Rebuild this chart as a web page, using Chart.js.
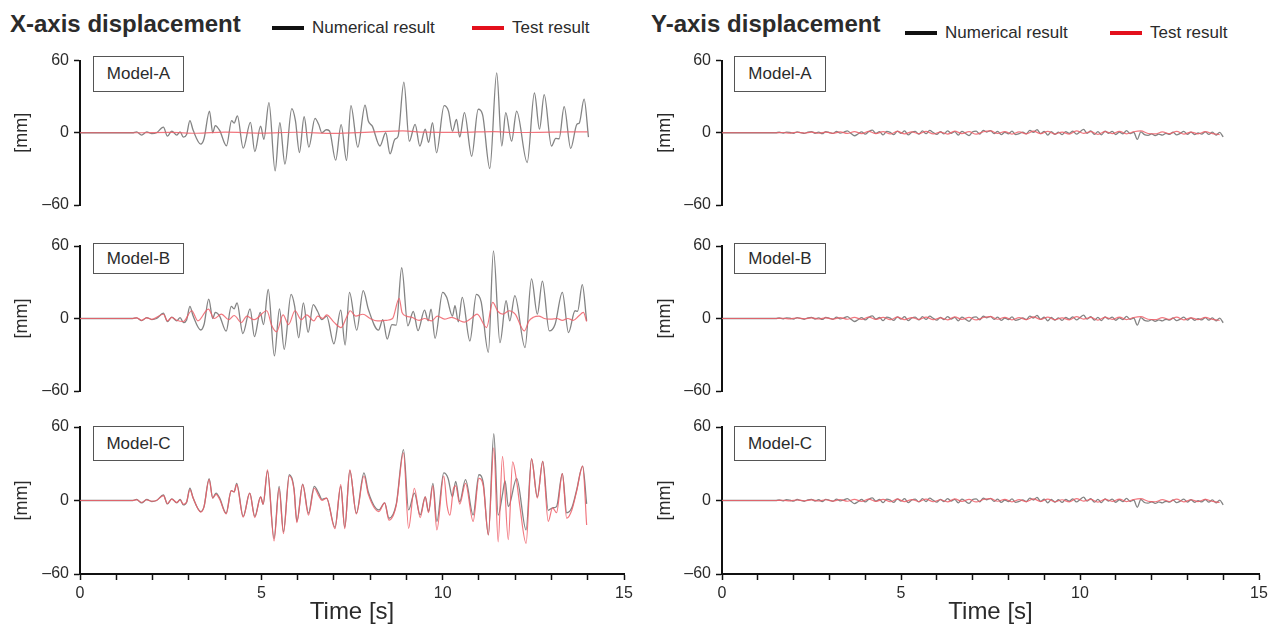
<!DOCTYPE html>
<html lang="en">
<head>
<meta charset="UTF-8">
<title>X / Y axis displacement</title>
<script src="https://cdn.jsdelivr.net/npm/chart.js"></script>
<style>
  body {
    margin: 0;
    width: 1274px;
    height: 627px;
    position: relative;
    overflow: hidden;
    background: #fff;
    font-family: "Liberation Sans", Arial, sans-serif;
    color: #2b2b2b;
  }
  canvas { position: absolute; }
  .title { position: absolute; top: 12px; font-size: 24px; font-weight: bold; line-height: 1; }
  .legend { position: absolute; font-size: 17px; line-height: 1; display: flex; align-items: center; }
  .swatch { display: inline-block; width: 32px; height: 4px; margin-right: 8px; }
  .model {
    position: absolute; box-sizing: border-box; border: 1px solid #555; background: #fff;
    font-size: 17px; display: flex; align-items: center; justify-content: center;
  }
</style>
</head>
<body>

<div class="title" style="left:10px">X-axis displacement</div>
<div class="legend" style="left:272px; top:19px"><span class="swatch" style="background:#111"></span>Numerical result</div>
<div class="legend" style="left:472px; top:19px"><span class="swatch" style="background:#e3101c"></span>Test result</div>

<div class="title" style="left:651px">Y-axis displacement</div>
<div class="legend" style="left:905px; top:24px"><span class="swatch" style="background:#111"></span>Numerical result</div>
<div class="legend" style="left:1110px; top:24px"><span class="swatch" style="background:#e3101c"></span>Test result</div>

<script>
// ---- data: [time s, displacement mm] ----

const numXA = [[0,0],[1.45,0],[1.56,0.8],[1.70,-1.9],[1.84,0.8],[1.98,-0.8],[2.11,0],[2.30,4.7],[2.41,-2.8],[2.53,1.4],[2.67,-1.9],[2.76,0.8],[2.85,-3.6],[2.94,-1.4],
  [3.03,10],[3.12,2],[3.33,-9.4],[3.42,-5],[3.57,18],[3.66,0],[3.73,6],[3.85,2],[4.04,-10.8],[4.18,10],[4.25,8],[4.34,14],[4.50,-12.8],[4.70,8.6],[4.82,-15.6],
  [4.98,5.5],[5.07,-5.5],[5.21,25],[5.38,-31.7],[5.51,8.3],[5.65,-26],[5.84,20],[5.94,10],[6.05,-16.4],[6.18,13.3],[6.31,-12],[6.48,12],[6.58,7],[6.67,0],
  [6.79,2.5],[6.88,1.5],[7.05,-22.8],[7.20,6.7],[7.35,-23],[7.47,22.5],[7.66,-12],[7.86,23],[7.95,9.7],[8.06,5.5],[8.27,-11],[8.43,0],[8.55,-17.5],[8.68,-5.5],
  [8.77,-3],[8.93,42],[9.08,-7],[9.24,7],[9.37,-11],[9.52,3],[9.61,-8],[9.72,8.3],[9.83,-16.7],[10.04,22.5],[10.16,18],[10.27,1.4],[10.38,11],[10.47,-3.6],
  [10.60,16.7],[10.80,-19.5],[10.98,19.5],[11.10,15],[11.30,-29.7],[11.49,49.7],[11.63,-11],[11.74,16.7],[11.90,-7],[12.04,18],[12.33,-24.7],[12.53,33],
  [12.67,3],[12.80,31.7],[13.00,-11],[13.12,-4.7],[13.21,-5],[13.35,21.7],[13.53,-13],[13.70,7],[13.77,8.3],[13.90,28],[14.02,-3.6]];

const testXA = [[0,0],[1.5,0],[2.5,0.3],[3.2,-0.4],[4.0,0.5],[5.0,-0.3],[6.0,0.4],[7.0,-0.5],[8.0,0.6],[8.9,1.5],[9.5,0.5],
  [10.5,0.3],[11.4,1.0],[12.0,0.2],[13.0,0.5],[14.0,0.8]];

const numXB = [[0,0],[1.45,0],[1.56,0.6],[1.70,-1.8],[1.84,0.8],[1.98,-0.9],[2.11,0],[2.30,4.4],[2.41,-2.6],[2.53,1.2],[2.67,-2.0],[2.76,0.8],[2.85,-3.4],[2.94,-1.2],
  [3.03,10],[3.12,2],[3.33,-9.5],[3.42,-5],[3.55,16],[3.66,0],[3.73,5],[3.85,2],[4.03,-10.5],[4.17,10],[4.25,8],[4.33,13],[4.49,-12.5],[4.69,8],[4.81,-15],
  [4.97,5],[5.06,-5],[5.19,24],[5.36,-31],[5.50,8],[5.63,-25.5],[5.82,20],[5.92,10],[6.03,-16],[6.16,13],[6.29,-11.5],[6.43,11.4],[6.55,6],[6.67,-1],[6.80,2],
  [7.00,-21],[7.19,7],[7.31,-22],[7.43,21.7],[7.63,-9.7],[7.81,23],[7.95,7.8],[8.23,-9.7],[8.35,-1],[8.47,-17],[8.60,-5],[8.72,-5.5],[8.87,42],[9.04,-6],
  [9.19,5.8],[9.32,-10],[9.50,7],[9.60,-2],[9.68,7.8],[9.79,-16.4],[10.00,21.7],[10.11,17.5],[10.27,2],[10.34,10.6],[10.43,-2.8],[10.54,17.5],[10.75,-18.6],
  [10.93,20],[11.06,14],[11.26,-28],[11.40,56],[11.58,-20],[11.75,14.7],[11.85,-2],[11.99,19],[12.27,-24],[12.45,32.8],[12.61,3.6],[12.75,30.9],[12.94,-10.3],
  [13.10,-4.7],[13.30,21.7],[13.47,-11.7],[13.65,6.4],[13.72,6],[13.85,28],[13.97,-2]];

const testXB = [[0,0],[1.45,0],[1.56,0.6],[1.70,-1.5],[1.84,0.6],[1.98,-0.7],[2.30,3.5],[2.41,-2],[2.53,1],[2.67,-1.5],[2.85,-2.5],[3.08,6.4],[3.25,-2],
  [3.54,7.8],[3.70,0],[3.90,3.6],[4.10,-1],[4.25,2.5],[4.45,-3.3],[4.60,2],[4.80,-1],[5.15,6.4],[5.29,-6],[5.42,-11],[5.60,3],[5.75,-5],[5.93,6.4],[6.10,-1],
  [6.25,3],[6.45,-2],[6.55,2],[6.70,0],[6.80,3],[7.00,-3],[7.20,-7.5],[7.35,1],[7.45,6.4],[7.60,2],[7.80,3.5],[8.00,0],[8.20,-2],[8.45,-1.5],[8.62,0],
  [8.80,16.7],[8.88,5],[9.00,2],[9.15,1],[9.35,-1.5],[9.50,0],[9.70,-2],[9.85,2],[10.05,-0.5],[10.25,1],[10.45,-1.5],[10.60,-3],[10.80,0.5],[10.95,3.6],
  [11.21,-7.5],[11.38,13.3],[11.52,6],[11.66,3.6],[11.83,6.4],[12.00,3.6],[12.25,-10.3],[12.38,-2],[12.50,1],[12.65,2],[12.80,0],[12.98,-0.5],[13.15,0],
  [13.30,-1.5],[13.45,0],[13.60,-1.5],[13.75,2],[13.88,5],[13.97,-2.5]];

const numXC = [[0,0],[1.45,0],[1.56,0.8],[1.70,-1.9],[1.84,0.8],[1.98,-0.8],[2.11,0],[2.30,4.5],[2.41,-2.8],[2.53,1.4],[2.67,-1.9],[2.76,0.8],[2.85,-3.6],[2.94,-1.4],
  [3.03,10],[3.12,2],[3.33,-9],[3.42,-5],[3.56,17.8],[3.66,2],[3.75,6],[3.85,2],[4.03,-10.4],[4.17,8],[4.25,7],[4.32,14],[4.50,-13],[4.68,6],[4.82,-13],
  [4.98,3],[5.05,-3],[5.17,24],[5.35,-31],[5.49,11.5],[5.61,-25.5],[5.77,21],[5.90,10],[5.98,-17],[6.14,13.4],[6.30,-10.4],[6.46,11.5],[6.58,6],[6.67,1],
  [6.80,2],[7.03,-22],[7.19,11.5],[7.30,-22],[7.44,24.4],[7.62,-10.4],[7.83,22.5],[7.95,7],[8.24,-7.7],[8.40,-2],[8.52,-14.5],[8.72,-3],[8.92,41.6],[9.06,-7.7],
  [9.22,6],[9.38,-11.8],[9.52,3],[9.61,-9],[9.73,14],[9.84,-17],[10.03,22.5],[10.15,18],[10.27,3],[10.36,15.6],[10.47,-1],[10.63,17],[10.84,-11.8],[11.00,21],
  [11.12,14],[11.26,-28],[11.41,54.5],[11.53,-12],[11.65,5],[11.72,16],[11.81,-5],[12.04,18],[12.30,-24],[12.45,34],[12.61,3],[12.76,32],[12.91,-8],
  [13.03,-6],[13.14,-5],[13.30,22],[13.42,-10],[13.56,-6],[13.69,8],[13.86,28],[13.97,-2.7]];

const testXC = [[0,0],[1.45,0],[1.56,0.6],[1.70,-1.6],[1.84,0.6],[1.98,-0.6],[2.11,0],[2.30,4],[2.41,-2.5],[2.53,1.2],[2.67,-1.6],[2.76,0.6],[2.85,-3],[2.94,-1.2],
  [3.03,9],[3.12,2],[3.33,-9.5],[3.42,-5],[3.56,17],[3.66,2],[3.75,5],[3.85,1],[4.03,-11],[4.17,8],[4.25,7],[4.32,13],[4.50,-13.5],[4.68,6],[4.82,-14],
  [4.98,3],[5.05,-3],[5.17,25],[5.35,-33],[5.49,10],[5.61,-27],[5.77,20],[5.90,9],[5.98,-18],[6.14,13],[6.30,-12],[6.46,10],[6.58,4],[6.67,0],[6.80,2],
  [7.03,-23],[7.19,13],[7.30,-23],[7.44,25],[7.62,-11],[7.83,20],[7.95,5],[8.24,-9],[8.40,-2],[8.52,-16],[8.72,-4],[8.92,39],[9.06,-22.7],[9.22,10],
  [9.38,-14],[9.52,3],[9.61,-10],[9.73,12],[9.84,-24],[10.03,20],[10.12,-4],[10.20,-12],[10.30,10],[10.36,12],[10.47,-3],[10.63,14],[10.84,-17],[11.00,18],
  [11.12,12],[11.26,-28],[11.41,43],[11.53,-33.7],[11.65,36],[11.81,-32],[11.93,31.5],[12.04,15.6],[12.13,-5],[12.30,-35],[12.45,34],[12.61,2],[12.76,32],
  [12.91,-17],[13.03,-6],[13.14,-10],[13.30,22],[13.42,-14.5],[13.56,-8],[13.69,7],[13.86,28],[13.97,-20]];

// Y direction: small wiggles, sampled every 0.1 s (numerical) / 0.2 s (test) from t = 1.5 s
const yStart = 1.5;
const numY = [0,0.4,-0.3,0.6,0.2,-0.5,0.8,0.1,-0.6,0.5,
  1.0,-0.4,0.6,-0.8,0.9,0.2,-0.6,1.2,-0.3,0.4,
  1.5,-0.5,-2.5,-1.0,0.8,-1.2,1.0,2.2,-0.6,0.9,
  -1.8,1.2,0.3,-1.5,1.4,-0.5,1.6,-1.8,0.4,1.1,
  -1.2,1.5,-0.8,1.9,0.2,-1.4,1.0,-0.9,1.6,-0.4,
  0.9,-1.9,1.2,-0.6,-2.4,0.8,1.4,-1.1,2.0,0.6,
  1.8,-0.7,1.1,-1.5,0.4,-0.9,1.3,-1.6,-0.8,0.5,
  -1.0,1.9,0.4,2.6,-0.8,1.2,-1.9,0.9,-1.3,0.6,
  -1.6,1.0,-0.6,1.4,-1.2,0.7,2.8,-0.5,1.5,-1.4,
  0.9,-1.7,1.3,-0.4,1.1,-1.5,0.6,-0.9,1.7,-0.8,
  0.4,-5.5,0.8,-1.6,-2.2,-1.0,-2.4,-1.2,-2.0,-0.6,
  -1.4,0.4,-1.8,-0.5,1.2,-1.3,0.6,-1.5,-0.2,-1.1,
  0.8,-1.4,0.5,-1.9,0.3,-3.5];
const testY = [0,0.2,-0.3,0.4,-0.2,0.5,-0.4,0.6,-0.5,0.8,
  -0.6,1.0,-0.8,1.2,-0.7,0.9,-1.0,1.1,-0.9,0.7,
  -0.8,1.2,-1.0,0.6,-1.1,1.3,-0.7,0.9,-1.2,0.8,
  1.5,-0.6,1.0,-1.1,0.7,-0.9,1.4,-0.8,1.1,-1.0,
  0.6,-1.2,1.6,-0.5,0.9,-1.3,1.0,-0.7,1.2,-0.9,
  0.8,1.5,-0.6,-1.0,0.7,-0.8,1.1,-1.2,0.6,-0.9,
  0.9,-0.7,-1.5];

const models = ['Model-A', 'Model-B', 'Model-C'];
const yTicks = [-60, 0, 60];

// ---- helpers ----
const pts = pairs => pairs.map(p => ({x: p[0], y: p[1]}));
const sampled = (dt, vals) => [{x: 0, y: 0}].concat(vals.map((v, i) => ({x: +(yStart + i * dt).toFixed(2), y: v})));

Chart.defaults.font.family = '"Liberation Sans", Arial, sans-serif';
Chart.defaults.color = '#2b2b2b';

// padding has to stay above the y-scale's own label padding (~15px), otherwise Chart.js grows it
const cols = [
  {x: 0,   w: 640, axisW: 80, padR: 16, mmPad: 11, boxX: 93,  boxW: 91},
  {x: 640, w: 634, axisW: 82, padR: 15, mmPad: 14, boxX: 734, boxW: 92}
];
const rows = [
  {y: 45,  h: 176, padT: 15.5, padB: 16, bottom: false, boxY: 56,  boxH: 36},
  {y: 230, h: 177, padT: 16,   padB: 16, bottom: false, boxY: 243, boxH: 31},
  {y: 410, h: 217, padT: 17,   padB: 0,  bottom: true,  boxY: 426, boxH: 35}
];

function panel(col, row, num, test, name) {
  const c = document.createElement('canvas');
  c.width = col.w;
  c.height = row.h;
  c.style.left = col.x + 'px';
  c.style.top = row.y + 'px';
  document.body.appendChild(c);

  const box = document.createElement('div');
  box.className = 'model';
  box.textContent = name;
  box.style.left = col.boxX + 'px';
  box.style.top = row.boxY + 'px';
  box.style.width = col.boxW + 'px';
  box.style.height = row.boxH + 'px';
  document.body.appendChild(box);

  return new Chart(c, {
    type: 'line',
    data: {
      datasets: [
        { label: 'Test result', data: test, borderColor: 'rgba(238,95,105,0.85)', borderWidth: 1.2,
          pointRadius: 0, cubicInterpolationMode: 'monotone', order: 0 },
        { label: 'Numerical result', data: num, borderColor: 'rgba(100,100,100,0.8)', borderWidth: 1.3,
          pointRadius: 0, cubicInterpolationMode: 'monotone', order: 1 }
      ]
    },
    options: {
      responsive: false,
      animation: false,
      devicePixelRatio: 1,
      layout: { padding: { top: row.padT, right: col.padR, bottom: row.padB, left: 0 } },
      plugins: { legend: { display: false }, tooltip: { enabled: false } },
      scales: {
        x: {
          type: 'linear', min: 0, max: 15,
          display: row.bottom,
          afterFit: s => { if (row.bottom) s.height = 53; },
          grid: { drawOnChartArea: false, tickLength: 6, color: '#111', tickWidth: 1.5 },
          border: { color: '#111', width: 2 },
          ticks: { stepSize: 1, autoSkip: false, maxRotation: 0, padding: 4, font: { size: 16 },
                   callback: v => (v % 5 === 0 ? String(v) : '') },
          title: { display: true, text: 'Time [s]', font: { size: 24 }, padding: { top: 0, bottom: 0 } }
        },
        y: {
          min: -60, max: 60,
          afterBuildTicks: s => { s.ticks = yTicks.map(v => ({value: v})); },
          afterFit: s => { s.width = col.axisW; },
          grid: { drawOnChartArea: false, tickLength: 6, color: '#111', tickWidth: 1.5 },
          border: { color: '#111', width: 2 },
          ticks: { padding: 5, font: { size: 16 },
                   callback: v => (v < 0 ? '\u2013' + Math.abs(v) : String(v)) },
          title: { display: true, text: '[mm]', font: { size: 18 }, padding: { top: col.mmPad, bottom: 0 } }
        }
      }
    }
  });
}

const xNum = [numXA, numXB, numXC];
const xTest = [testXA, testXB, testXC];
rows.forEach((row, i) => {
  panel(cols[0], row, pts(xNum[i]), pts(xTest[i]), models[i]);
  panel(cols[1], row, sampled(0.1, numY), sampled(0.2, testY), models[i]);
});
</script>
</body>
</html>
